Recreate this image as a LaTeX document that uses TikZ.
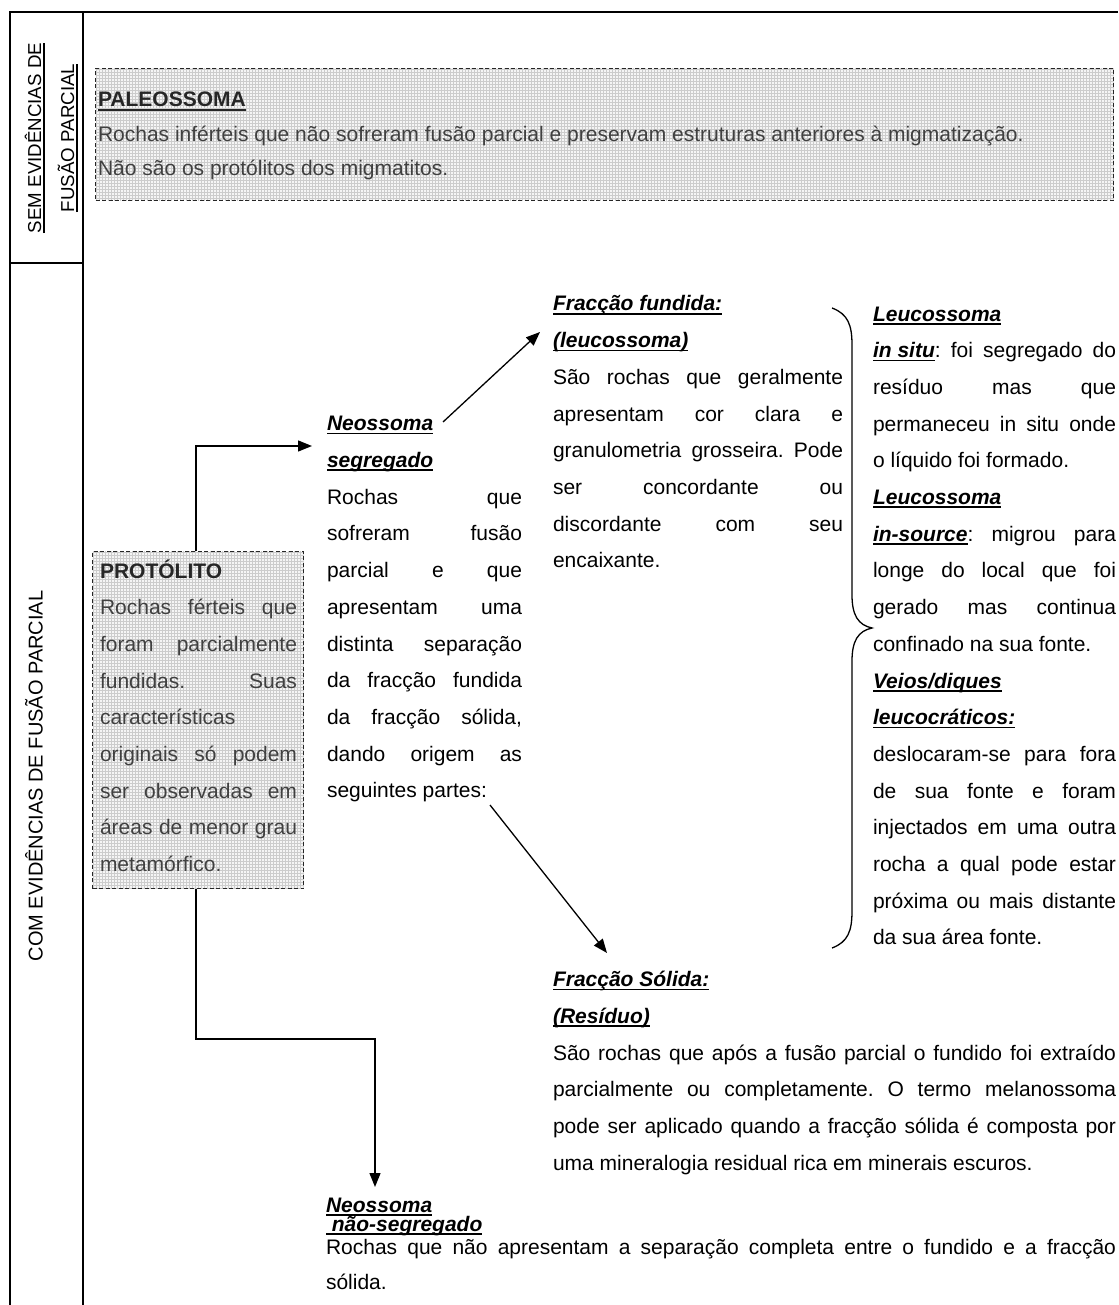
\documentclass[tikz,border=0pt]{standalone}
\usepackage{fontspec}
\setmainfont{Liberation Sans}
\usetikzlibrary{arrows.meta,patterns}
\definecolor{boxtext}{gray}{0.25}
\frenchspacing
\newcommand\myul[1]{\setbox0\hbox{#1}\rlap{\rule[-3.6pt]{\wd0}{1.8pt}}\box0}
\newcommand\jline[1]{\hbox to\hsize{#1}}
\newcommand\fline[1]{\hbox to\hsize{#1\hfil}}
\newcommand\bix[1]{\textbf{\textit{#1}}}
\newcommand\para[3]{\vtop{\hsize=#1pt\relax\fontsize{21}{#2}\selectfont\frenchspacing#3}}
\begin{document}
\begin{tikzpicture}[x=1pt,y=-1pt,
  frame/.style={line width=2.6pt},
  txt/.style={anchor=base west,inner sep=0pt,outer sep=0pt},
  rot/.style={rotate=90,anchor=base,inner sep=0pt},
  gridbox/.style={draw=black!85,line width=1pt,dash pattern=on 4pt off 2.5pt,
     preaction={fill=gray!8},preaction={pattern=grid,pattern color=gray!40}},
  arr/.style={line width=1.3pt,-{Triangle[length=14pt,width=11pt]}},
  conn/.style={line width=1.3pt}]
\useasboundingbox (0,0) rectangle (1118,1305);
% frame
\draw[frame] (10,1305) -- (10,12) -- (1118,12);
\draw[frame] (83,12) -- (83,1305);
\draw[frame] (10,263) -- (83,263);
% side labels
\node[rot,font=\fontsize{18.7}{22}\selectfont] (sem1) at (41,138) {\myul{SEM EVIDÊNCIAS DE}};
\node[rot,font=\fontsize{18.7}{22}\selectfont] (sem2) at (74,138) {\myul{FUSÃO PARCIAL}};
\node[rot,font=\fontsize{20}{24}\selectfont] (com) at (42.5,776) {COM EVIDÊNCIAS DE FUSÃO PARCIAL};
% boxes
\node[gridbox,anchor=north west,minimum width=1018pt,minimum height=132pt,inner sep=0pt] (paleo) at (95,68) {};
\node[gridbox,anchor=north west,minimum width=211pt,minimum height=337pt,inner sep=0pt] (proto) at (92,551) {};
% texts
\node[txt,text=boxtext] (paleot) at (98,107) {\para{1000}{34.5}{%
\fline{\textcolor{black!85}{\textbf{\myul{PALEOSSOMA}}}}
\fline{Rochas inférteis que não sofreram fusão parcial e preservam estruturas anteriores à migmatização.}
\fline{Não são os protólitos dos migmatitos.}}};
\node[txt,text=boxtext] (protot) at (100,578) {\para{197}{36.7}{%
\fline{\textcolor{black!85}{\textbf{PROTÓLITO}}}
\jline{Rochas férteis que}
\jline{foram parcialmente}
\jline{fundidas. Suas}
\fline{características}
\jline{originais só podem}
\jline{ser observadas em}
\jline{áreas de menor grau}
\fline{metamórfico.}}};
\node[txt] (seg) at (327,430.8) {\para{195}{36.7}{%
\fline{\myul{\bix{Neossoma}}}
\fline{\myul{\bix{segregado}}}
\jline{Rochas que}
\jline{sofreram fusão}
\jline{parcial e que}
\jline{apresentam uma}
\jline{distinta separação}
\jline{da fracção fundida}
\jline{da fracção sólida,}
\jline{dando origem as}
\fline{seguintes partes:}}};
\node[txt] (fund) at (553,311) {\para{290}{36.7}{%
\fline{\myul{\bix{Fracção fundida:}}}
\fline{\myul{\bix{(leucossoma)}}}
\jline{São rochas que geralmente}
\jline{apresentam cor clara e}
\jline{granulometria grosseira. Pode}
\jline{ser concordante ou}
\jline{discordante com seu}
\fline{encaixante.}}};
\node[txt] (leuco) at (873,321) {\para{243}{36.7}{%
\fline{\myul{\bix{Leucossoma}}}
\jline{\myul{\bix{in situ}}: foi segregado do}
\jline{resíduo mas que}
\jline{permaneceu in situ onde}
\fline{o líquido foi formado.}
\fline{\myul{\bix{Leucossoma}}}
\jline{\myul{\bix{in-source}}: migrou para}
\jline{longe do local que foi}
\jline{gerado mas continua}
\fline{confinado na sua fonte.}
\fline{\myul{\bix{Veios/diques}}}
\fline{\myul{\bix{leucocráticos:}}}
\jline{deslocaram-se para fora}
\jline{de sua fonte e foram}
\jline{injectados em uma outra}
\jline{rocha a qual pode estar}
\jline{próxima ou mais distante}
\fline{da sua área fonte.}}};
\node[txt] (solid) at (553,986.7) {\para{563}{36.7}{%
\fline{\myul{\bix{Fracção Sólida:}}}
\fline{\myul{\bix{(Resíduo)}}}
\jline{São rochas que após a fusão parcial o fundido foi extraído}
\jline{parcialmente ou completamente. O termo melanossoma}
\jline{pode ser aplicado quando a fracção sólida é composta por}
\fline{uma mineralogia residual rica em minerais escuros.}}};
\node[txt] (nsegh) at (326,1212) {\para{300}{19.5}{%
\fline{\myul{\bix{Neossoma}}}
\fline{\myul{\bix{\ não-segregado}}}}};
\node[txt] (nseg) at (326,1254) {\para{790}{35}{%
\jline{Rochas que não apresentam a separação completa entre o fundido e a fracção}
\fline{sólida.}}};
% connectors
\coordinate (segin) at (312,446);
\coordinate (nsegin) at (375,1187);
\coordinate (d1s) at (443,422);
\coordinate (d1e) at (540,332);
\coordinate (d2s) at (490,805);
\coordinate (d2e) at (607,953);
\draw[arr] ([xshift=104pt]proto.north west) |- (segin);
\draw[arr] ([xshift=104pt]proto.south west) -- ++(0,150) -| (nsegin);
\draw[arr] (d1s) -- (d1e);
\draw[arr] (d2s) -- (d2e);
% brace
\draw[conn] (832,308) .. controls (848,314) and (852,325) .. (852,345) -- (852,595)
  .. controls (852,615) and (858,625) .. (872,628)
  .. controls (858,631) and (852,641) .. (852,661) -- (852,911)
  .. controls (852,931) and (848,942) .. (832,948);
\end{tikzpicture}
\end{document}
